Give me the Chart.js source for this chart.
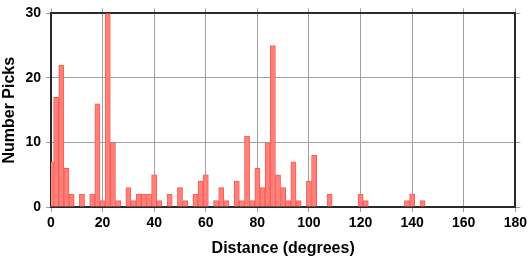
<!DOCTYPE html>
<html>
<head>
<meta charset="utf-8">
<title>Number Picks vs Distance</title>
<script src="https://cdn.jsdelivr.net/npm/chart.js@4/dist/chart.umd.min.js"></script>
<style>
    html, body { margin: 0; padding: 0; background: #fff; }
    #wrap { width: 530px; height: 258px; }
</style>
</head>
<body>
<div id="wrap"><canvas id="histChart" width="530" height="258"></canvas></div>
<script>
// Bin centres (degrees), 2-degree bins
const binCenters = [
    0, 2, 4, 6, 8, 10, 12, 14, 16, 18, 20, 22, 24, 26, 28, 30, 32, 34, 36, 38,
    40, 42, 44, 46, 48, 50, 52, 54, 56, 58, 60, 62, 64, 66, 68, 70, 72, 74, 76, 78,
    80, 82, 84, 86, 88, 90, 92, 94, 96, 98, 100, 102, 104, 106, 108, 110, 112, 114, 116, 118,
    120, 122, 124, 126, 128, 130, 132, 134, 136, 138, 140, 142, 144
];
// Picks per bin
const pickCounts = [
    7, 17, 22, 6, 2, 0, 2, 0, 2, 16, 1, 30, 10, 1, 0, 3, 1, 2, 2, 2,
    5, 1, 0, 2, 0, 3, 1, 0, 2, 4, 5, 0, 1, 3, 1, 0, 4, 1, 11, 1,
    6, 3, 10, 25, 5, 3, 1, 7, 1, 0, 4, 8, 0, 0, 2, 0, 0, 0, 0, 0,
    2, 1, 0, 0, 0, 0, 0, 0, 0, 1, 2, 0, 1
];
const xTicks = [0, 20, 40, 60, 80, 100, 120, 140, 160, 180];
const yTicks = [0, 10, 20, 30];

const frameColor = '#2a2a2a';
const gridColor = '#a0a0a0';
const tickFont = { family: 'Liberation Sans', size: 14, weight: 'bold' };
const titleFont = { family: 'Liberation Sans', size: 16, weight: 'bold' };

function fixTicks(values) {
    return scale => { scale.ticks = values.map(v => ({ value: v })); };
}

const points = binCenters
    .map((c, i) => ({ x: c, y: pickCounts[i] }))
    .filter(p => p.y > 0);

new Chart(document.getElementById('histChart'), {
    type: 'bar',
    data: {
        datasets: [{
            data: points,
            backgroundColor: 'rgb(255, 128, 120)',
            borderColor: 'rgb(248, 92, 84)',
            borderWidth: 1,
            categoryPercentage: 1,
            barPercentage: 1
        }]
    },
    options: {
        responsive: false,
        animation: false,
        layout: { padding: 0 },
        plugins: { legend: { display: false }, tooltip: { enabled: false } },
        scales: {
            x: {
                type: 'linear',
                position: 'bottom',
                offset: false,
                min: 0,
                max: 180,
                afterBuildTicks: fixTicks(xTicks),
                afterFit: s => { s.height = 51; },
                ticks: { color: '#000', font: tickFont, padding: 3, maxRotation: 0 },
                grid: { color: gridColor, lineWidth: 1, tickLength: 5, tickColor: gridColor, offset: false },
                border: { color: frameColor, width: 2 },
                title: {
                    display: true, text: 'Distance (degrees)', color: '#000',
                    font: titleFont, padding: { top: 0, bottom: 0 }
                }
            },
            x2: {
                type: 'linear',
                position: 'top',
                offset: false,
                min: 0,
                max: 180,
                afterBuildTicks: fixTicks(xTicks),
                afterFit: s => { s.height = 6; },
                ticks: { display: false },
                grid: { drawOnChartArea: false, tickLength: 5, tickColor: gridColor, offset: false },
                border: { color: frameColor, width: 2 }
            },
            y: {
                position: 'left',
                min: 0,
                max: 30,
                afterBuildTicks: fixTicks(yTicks),
                afterFit: s => { s.width = 51; },
                ticks: { color: '#000', font: tickFont, padding: 5 },
                grid: { color: gridColor, lineWidth: 1, tickLength: 5, tickColor: gridColor },
                border: { color: frameColor, width: 2 },
                title: {
                    display: true, text: 'Number Picks', color: '#000',
                    font: titleFont, padding: { top: 0, bottom: 0 }
                }
            },
            y2: {
                position: 'right',
                min: 0,
                max: 30,
                afterBuildTicks: fixTicks(yTicks),
                afterFit: s => { s.width = 11; },
                ticks: { display: false },
                grid: { drawOnChartArea: false, tickLength: 5, tickColor: gridColor },
                border: { color: frameColor, width: 2 }
            }
        }
    }
});
</script>
</body>
</html>
